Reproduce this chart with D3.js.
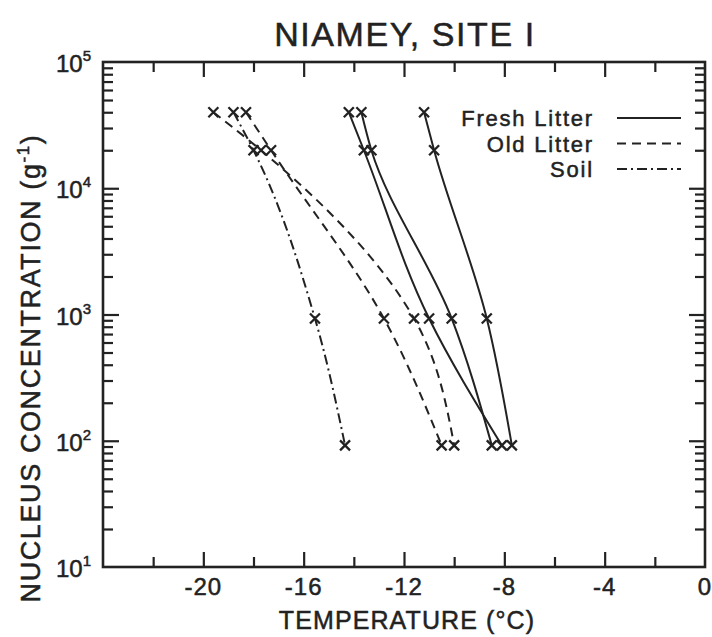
<!DOCTYPE html>
<html>
<head>
<meta charset="utf-8">
<script src="https://cdn.jsdelivr.net/npm/d3@7"></script>
<style>
  body { margin: 0; background: #fff; }
  svg text { font-family: "Liberation Sans", Arial, sans-serif; fill: #222; stroke: #222; stroke-width: 0.5; }
</style>
</head>
<body>
<div id="chart"></div>
<script>
// values
var concentrations = [4e4, 2e4, 930, 92];
var freshLitterA = [-14.2, -13.6, -11.0, -8.1];
var freshLitterB = [-13.7, -13.3, -10.1, -8.5];
var freshLitterC = [-11.2, -10.8, -8.7, -7.7];
var oldLitterA = [-19.6, -17.7, -11.6, -10.0];
var oldLitterB = [-18.3, -17.3, -12.8, -10.5];
var soil = [-18.8, -18.0, -15.55, -14.35];

var xMajorTicks = [-20, -16, -12, -8, -4, 0];
var xMinorTicks = [-22, -18, -14, -10, -6, -2];
var decades = [10, 100, 1000, 10000, 100000];
var legendNames = ["Fresh Litter", "Old Litter", "Soil"];

var W = 712, H = 637;
var pLeft = 103, pRight = 705, pTop = 62, pBottom = 567;
var ink = "#222";

var svg = d3.select("#chart").append("svg")
    .attr("width", W)
    .attr("height", H);

var x = d3.scaleLinear().domain([-24, 0]).range([pLeft, pRight]);
var y = d3.scaleLog().domain([10, 1e5]).range([pBottom, pTop]);

// minor log ticks 2..9 in each decade
var yMinor = [];
decades.slice(0, 4).forEach(function(d){
    for (var k = 2; k <= 9; k++) yMinor.push(d * k);
});

function tickGroup(axis, tx, ty){
    var g = svg.append("g").attr("transform", "translate(" + tx + "," + ty + ")").call(axis);
    g.select(".domain").remove();
    g.selectAll("line").attr("stroke", ink).attr("stroke-width", 2.2);
    g.selectAll("text").remove();
    return g;
}

tickGroup(d3.axisBottom(x).tickValues(xMajorTicks.slice(0, 5)).tickSize(-15), 0, pBottom);
tickGroup(d3.axisBottom(x).tickValues(xMinorTicks).tickSize(-10), 0, pBottom);
tickGroup(d3.axisTop(x).tickValues(xMajorTicks.slice(0, 5)).tickSize(-15), 0, pTop);
tickGroup(d3.axisTop(x).tickValues(xMinorTicks).tickSize(-10), 0, pTop);
tickGroup(d3.axisLeft(y).tickValues(decades.slice(1, 4)).tickSize(-16), pLeft, 0);
tickGroup(d3.axisLeft(y).tickValues(yMinor).tickSize(-10), pLeft, 0);
tickGroup(d3.axisRight(y).tickValues(decades.slice(1, 4)).tickSize(-16), pRight, 0);
tickGroup(d3.axisRight(y).tickValues(yMinor).tickSize(-10), pRight, 0);

// frame
svg.append("rect")
    .attr("x", pLeft).attr("y", pTop)
    .attr("width", pRight - pLeft).attr("height", pBottom - pTop)
    .attr("fill", "none").attr("stroke", ink).attr("stroke-width", 2.6);

// x tick labels
svg.selectAll(".xlab").data(xMajorTicks).enter().append("text")
    .attr("x", function(d){ return x(d); })
    .attr("y", 595)
    .attr("text-anchor", "middle")
    .attr("font-size", 24)
    .attr("letter-spacing", 1)
    .text(function(d){ return d === 0 ? "0" : "-" + Math.abs(d); });

// y tick labels: 10 with superscript exponent
var ylab = svg.selectAll(".ylab").data(decades).enter().append("text")
    .attr("x", 91)
    .attr("y", function(d){ return y(d) + 10; })
    .attr("text-anchor", "end")
    .attr("font-size", 24);
ylab.append("tspan").text("10");
ylab.append("tspan")
    .attr("font-size", 15)
    .attr("dy", -11)
    .text(function(d){ return Math.round(Math.log10(d)); });

// title and axis titles
svg.append("text")
    .attr("x", 405).attr("y", 46)
    .attr("text-anchor", "middle")
    .attr("font-size", 34)
    .attr("letter-spacing", 1.6)
    .text("NIAMEY, SITE I");

svg.append("text")
    .attr("x", 407).attr("y", 629)
    .attr("text-anchor", "middle")
    .attr("font-size", 25)
    .attr("letter-spacing", 1.1)
    .text("TEMPERATURE (\u00B0C)");

var ytitle = svg.append("text")
    .attr("transform", "translate(40,368) rotate(-90)")
    .attr("text-anchor", "middle")
    .attr("font-size", 27)
    .attr("letter-spacing", 1.6);
ytitle.append("tspan").text("NUCLEUS CONCENTRATION (g");
ytitle.append("tspan").attr("font-size", 17).attr("dy", -11).text("-1");
ytitle.append("tspan").attr("dy", 11).text(")");

// series
var styles = {
    fresh: null,
    old: "9,6",
    soil: "10,4,2,4"
};
var series = [
    { temps: freshLitterA, dash: styles.fresh },
    { temps: freshLitterB, dash: styles.fresh },
    { temps: freshLitterC, dash: styles.fresh },
    { temps: oldLitterA, dash: styles.old },
    { temps: oldLitterB, dash: styles.old },
    { temps: soil, dash: styles.soil }
];

var line = d3.line()
    .x(function(d){ return x(d[0]); })
    .y(function(d){ return y(d[1]); })
    .curve(d3.curveMonotoneY);

series.forEach(function(s){
    var pts = s.temps.map(function(t, i){ return [t, concentrations[i]]; });
    svg.append("path")
        .attr("d", line(pts))
        .attr("fill", "none")
        .attr("stroke", ink)
        .attr("stroke-width", 2)
        .attr("stroke-dasharray", s.dash);

    // x markers
    var m = 5;
    svg.selectAll(null).data(pts).enter().append("path")
        .attr("d", function(d){
            var cx = x(d[0]), cy = y(d[1]);
            return "M" + (cx - m) + "," + (cy - m) + "L" + (cx + m) + "," + (cy + m) +
                   "M" + (cx - m) + "," + (cy + m) + "L" + (cx + m) + "," + (cy - m);
        })
        .attr("stroke", ink)
        .attr("stroke-width", 2.3)
        .attr("fill", "none");
});

// legend
var legendDash = [styles.fresh, styles.old, styles.soil];
legendNames.forEach(function(name, i){
    var ly = 126 + i * 25.5;
    svg.append("text")
        .attr("x", 594).attr("y", ly)
        .attr("text-anchor", "end")
        .attr("font-size", 22)
        .attr("letter-spacing", 1.8)
        .text(name);
    svg.append("line")
        .attr("x1", 617).attr("x2", 681)
        .attr("y1", ly - 8).attr("y2", ly - 8)
        .attr("stroke", ink)
        .attr("stroke-width", 2)
        .attr("stroke-dasharray", legendDash[i]);
});
</script>
</body>
</html>
